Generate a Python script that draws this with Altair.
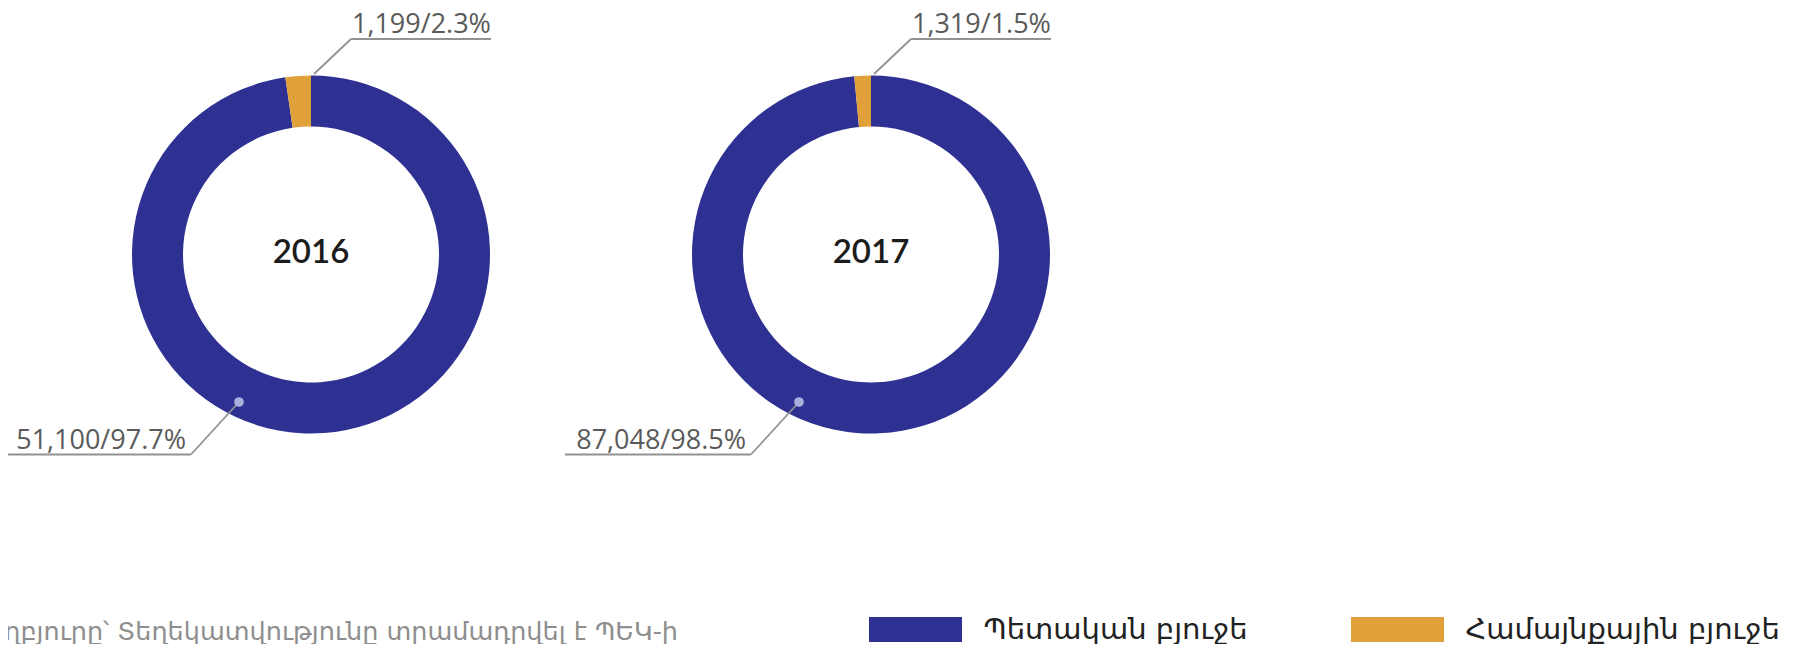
import altair as alt
import pandas as pd

# ---------------- data ----------------
years = ["2016", "2017"]
categories = ["Պետական բյուջե", "Համայնքային բյուջե"]
state_budget = [51100, 87048]
community_budget = [1199, 1319]
source_lines = [
    "Աղբյուրը՝ Տեղեկատվությունը տրամադրվել է ՊԵԿ-ի",
    "ՏԿԶԴ կողմից ԱՖԹԴ հաշվետվության համար",
]

# ---------------- layout / style ----------------
W, H = 1782, 636          # drawing area (page minus 8px margins)
OFF = 8                   # page margin
CENTER_X = {"2016": 311 - OFF, "2017": 871 - OFF}
CY = 254.5 - OFF
R_OUT, R_IN = 179, 128
COLORS = ["#2e3192", "#e0a13a"]
LINE_COLOR = "#929292"
LABEL_FONT = "Open Sans"
ARM_FONT = "DejaVu Sans"

rows = []
for yr, s, c in zip(years, state_budget, community_budget):
    total = s + c
    for i, (cat, v) in enumerate(zip(categories, [s, c])):
        rows.append({
            "year": yr, "category": cat, "order": i, "value": v,
            "label": f"{v:,}/{100 * v / total:.1f}%",
            "cx": CENTER_X[yr], "cy": CY,
        })
df = pd.DataFrame(rows)

xs = alt.Scale(domain=[0, W], range=[0, W], nice=False, zero=False)
ys = alt.Scale(domain=[0, H], range=[0, H], nice=False, zero=False)
cscale = alt.Scale(domain=categories, range=COLORS)

# donut rings
arcs = (
    alt.Chart(df)
    .transform_joinaggregate(total="sum(value)", groupby=["year"])
    .transform_window(cum="sum(value)", groupby=["year"],
                      sort=[alt.SortField("order")], frame=[None, 0])
    .transform_calculate(
        t0="2*PI*(datum.cum-datum.value)/datum.total",
        t1="2*PI*datum.cum/datum.total",
    )
    .mark_arc(outerRadius=R_OUT, innerRadius=R_IN)
    .encode(
        x=alt.X("cx:Q", scale=xs, axis=None),
        y=alt.Y("cy:Q", scale=ys, axis=None),
        theta=alt.Theta("t0:Q", scale=None),
        theta2="t1:Q",
        color=alt.Color("category:N", scale=cscale, legend=None),
    )
)

# year labels in the centre
year_df = pd.DataFrame({"year": years, "cx": [CENTER_X[y] for y in years], "cy": [CY - 2] * len(years)})
year_text = alt.Chart(year_df).mark_text(
    fontSize=33, font="Lato", fontWeight=600, color="#1c1c1c", baseline="middle", align="center"
).encode(x=alt.X("cx:Q", scale=xs), y=alt.Y("cy:Q", scale=ys), text="year:N")

# annotation geometry derived from ring centres
segs, texts_l, texts_r, dots = [], [], [], []
for r in rows:
    cx = r["cx"]
    if r["order"] == 1:
        jx, jy = cx + 40, CY - 215.5
        segs.append({"x": cx + 3, "y": CY - 180.5, "x2": jx, "y2": jy})
        segs.append({"x": jx, "y": jy, "x2": jx + 140, "y2": jy})
        texts_l.append({"x": jx + 1, "y": jy - 6, "label": r["label"]})
    else:
        dx, dy = cx - 72, CY + 147.5
        jx, jy = cx - 120, CY + 200
        dots.append({"x": dx, "y": dy})
        segs.append({"x": dx, "y": dy, "x2": jx, "y2": jy})
        segs.append({"x": jx - 186, "y": jy, "x2": jx, "y2": jy})
        texts_r.append({"x": jx - 5, "y": jy - 6, "label": r["label"]})

rules = alt.Chart(pd.DataFrame(segs)).mark_rule(color=LINE_COLOR, strokeWidth=1.8).encode(
    x=alt.X("x:Q", scale=xs), y=alt.Y("y:Q", scale=ys), x2="x2:Q", y2="y2:Q"
)
dot_layer = alt.Chart(pd.DataFrame(dots)).mark_circle(size=95, color="#a9afdc", opacity=1).encode(
    x=alt.X("x:Q", scale=xs), y=alt.Y("y:Q", scale=ys)
)
lab_l = alt.Chart(pd.DataFrame(texts_l)).mark_text(
    align="left", baseline="alphabetic", fontSize=27, font=LABEL_FONT, color="#5a5a5a"
).encode(x=alt.X("x:Q", scale=xs), y=alt.Y("y:Q", scale=ys), text="label:N")
lab_r = alt.Chart(pd.DataFrame(texts_r)).mark_text(
    align="right", baseline="alphabetic", fontSize=27, font=LABEL_FONT, color="#5a5a5a"
).encode(x=alt.X("x:Q", scale=xs), y=alt.Y("y:Q", scale=ys), text="label:N")

# legend (drawn with the shared colour scale)
LEG_X = [915.5 - OFF, 1397.5 - OFF]
LEG_Y = 629.5 - OFF
leg_df = pd.DataFrame({"category": categories, "lx": LEG_X, "ly": [LEG_Y] * 2,
                       "tx": [x + 68 for x in LEG_X]})
leg_sym = alt.Chart(leg_df).mark_point(
    shape="M-1,-0.27H1V0.27H-1Z", size=93 * 93, filled=True, opacity=1, strokeWidth=0
).encode(x=alt.X("lx:Q", scale=xs), y=alt.Y("ly:Q", scale=ys),
         color=alt.Color("category:N", scale=cscale, legend=None))
leg_txt = alt.Chart(leg_df).mark_text(
    align="left", baseline="middle", fontSize=29, font=ARM_FONT, color="#222222"
).encode(x=alt.X("tx:Q", scale=xs), y=alt.Y("ly:Q", scale=ys), text="category:N")

# source note (bottom left, partly cut off as in the original)
src_df = pd.DataFrame({"line": source_lines, "x": [678 - OFF, 678 - OFF], "y": [640 - OFF, 665 - OFF]})
src_txt = alt.Chart(src_df).mark_text(
    align="right", baseline="alphabetic", fontSize=25.5, font=ARM_FONT, color="#8e8e8e"
).encode(x=alt.X("x:Q", scale=xs), y=alt.Y("y:Q", scale=ys), text="line:N")

chart = (
    alt.layer(arcs, rules, dot_layer, lab_l, lab_r, year_text, leg_sym, leg_txt, src_txt)
    .properties(width=W, height=H, padding=0, autosize=alt.AutoSizeParams(type="none"))
    .configure_view(stroke=None)
)

chart.save("out.html", embed_options={"renderer": "svg", "actions": False})
